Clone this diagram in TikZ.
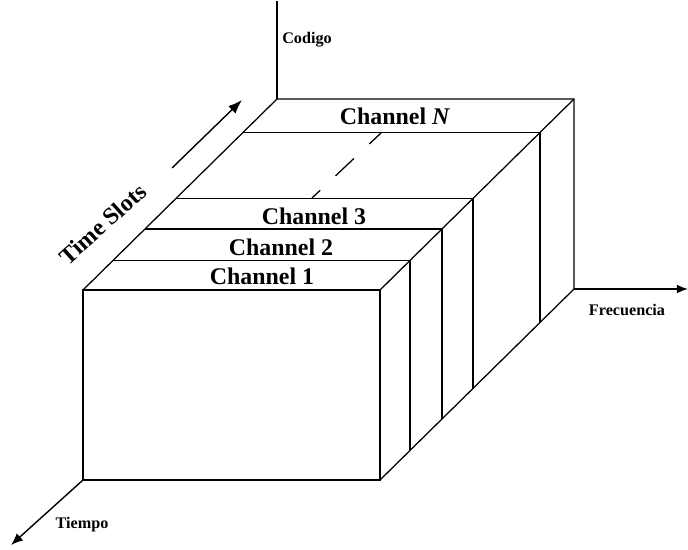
\documentclass[tikz,border=0pt]{standalone}
\usepackage{fontspec}
\setmainfont{Liberation Serif}
\usetikzlibrary{arrows.meta,calc}

\begin{document}
\begin{tikzpicture}[x=0.025cm, y=0.025cm, line width=0.9pt,
      canal/.style={font=\fontsize{17}{20}\selectfont\bfseries, inner sep=0pt},
      eje/.style={font=\fontsize{11.5}{13}\selectfont\bfseries},
      t/.style={-{Latex[length=3.5mm, width=2.6mm]}, line width=1pt}]

  \useasboundingbox (0,0) rectangle (688,550);

  % Esquinas de la caja
  \coordinate (flb) at (83,70);
  \coordinate (flt) at (83,260);
  \coordinate (frt) at (380,260);
  \coordinate (frb) at (380,70);
  \coordinate (blt) at (277,451);
  \coordinate (brt) at (574,451);
  \coordinate (brb) at (574,261);

  % Cara frontal y contorno
  \draw (flb) rectangle (frt);
  \draw (flt) -- (blt) -- (brt) -- (brb) -- (frb);
  \draw (frt) -- (brt);

  % Separaciones entre canales
  \draw ($(flt)!0.155!(blt)$) -- ($(frt)!0.155!(brt)$) -- ($(frb)!0.155!(brb)$);
  \draw ($(flt)!0.32!(blt)$) -- ($(frt)!0.32!(brt)$) -- ($(frb)!0.32!(brb)$);
  \draw ($(flt)!0.479!(blt)$) -- ($(frt)!0.479!(brt)$) -- ($(frb)!0.479!(brb)$);
  \draw ($(flt)!0.825!(blt)$) -- ($(frt)!0.825!(brt)$) -- ($(frb)!0.825!(brb)$);

  % Canales intermedios
  \coordinate (d0) at (312,352);
  \coordinate (d1) at (381,417);
  \draw[dash pattern=on 18pt off 15pt, dash phase=10pt] (d0) -- (d1);

  \node[canal] (ch1) at (262,274) {Channel 1};
  \node[canal] (ch2) at (281,303) {Channel 2};
  \node[canal] (ch3) at (314,334) {Channel 3};
  \node[canal] (chN) at (395,434) {Channel \textit{N}};

  % Ejes
  \coordinate (cod) at (277,549);
  \coordinate (fre) at (688,261);
  \coordinate (tie) at (11,5);
  \draw (blt) -- (cod);
  \draw[t, -{Latex[length=2.8mm, width=2.2mm]}] (brb) -- (fre);
  \draw[t, -{Latex[length=3mm, width=2.4mm]}] (flb) -- (tie);

  \node[eje] (codigo) at (307,510) {Codigo};
  \node[eje] (frec) at (627,240) {Frecuencia};
  \node[eje] (tiempo) at (82,25) {Tiempo};

  % Ranuras de tiempo
  \coordinate (ts0) at (172,382);
  \coordinate (ts1) at (242,450);
  \draw[t] (ts0) -- (ts1);
  \node[canal, rotate=42] (slots) at (103,326) {Time Slots};
\end{tikzpicture}
\end{document}
